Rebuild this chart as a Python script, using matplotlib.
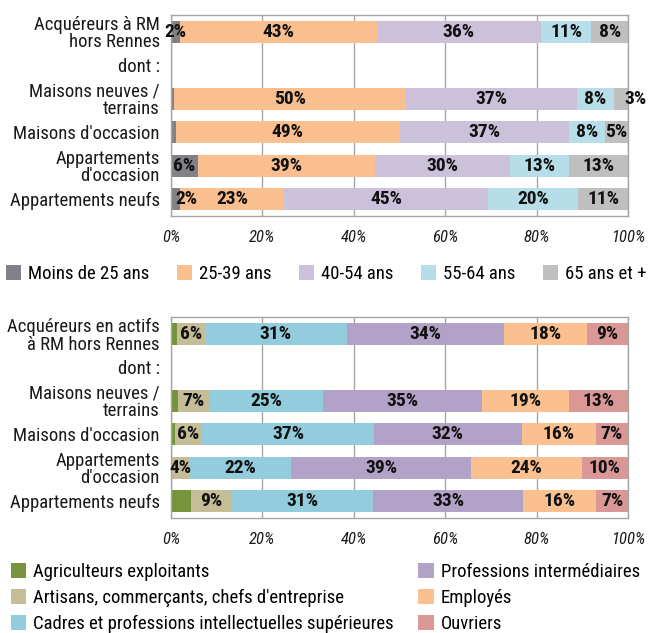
import matplotlib
matplotlib.use("Agg")
import matplotlib.pyplot as plt
import numpy as np
from matplotlib import font_manager

names = {f.name for f in font_manager.fontManager.ttflist}
FONT = next((n for n in ['Roboto Condensed', 'Archivo Narrow', 'PT Sans Narrow',
                         'Pragati Narrow', 'Barlow Condensed', 'Liberation Sans'] if n in names),
            'DejaVu Sans')
plt.rcParams['font.family'] = [FONT, 'DejaVu Sans']

# ---------------- data ----------------
top_rows = ["Acquéreurs à RM\nhors Rennes", "dont :", "Maisons neuves /\nterrains",
            "Maisons d'occasion", "Appartements\nd'occasion", "Appartements neufs"]
top_series = ["Moins de 25 ans", "25-39 ans", "40-54 ans", "55-64 ans", "65 ans et +"]
top_moins25 = [2, 0.7, 1, 6, 2]
top_25_39 = [43, 50, 49, 39, 23]
top_40_54 = [36, 37, 37, 30, 45]
top_55_64 = [11, 8, 8, 13, 20]
top_65plus = [8, 3, 5, 13, 11]

bot_rows = ["Acquéreurs en actifs\nà RM hors Rennes", "dont :", "Maisons neuves /\nterrains",
            "Maisons d'occasion", "Appartements\nd'occasion", "Appartements neufs"]
bot_series = ["Agriculteurs exploitants", "Artisans, commerçants, chefs d'entreprise",
              "Cadres et professions intellectuelles supérieures",
              "Professions intermédiaires", "Employés", "Ouvriers"]
bot_agri = [1.3, 1.5, 0.8, 0, 4.4]
bot_artisans = [6, 7, 6, 4, 9]
bot_cadres = [31, 25, 37, 22, 31]
bot_prof_inter = [34, 35, 32, 39, 33]
bot_employes = [18, 19, 16, 24, 16]
bot_ouvriers = [9, 13, 7, 10, 7]

xticks = [0, 20, 40, 60, 80, 100]
xticklabels = ["0%", "20%", "40%", "60%", "80%", "100%"]

top_colors = ["#828188", "#F9BF8F", "#CCC1DA", "#B7DEE8", "#BFBFBF"]
bot_colors = ["#77933C", "#C4BD97", "#93CDDD", "#B3A2C7", "#FAC090", "#D99795"]

W, H = 663, 633
fig = plt.figure(figsize=(W / 100, H / 100), dpi=100)

def px_axes(left, top, right, bottom):
    return fig.add_axes([left / W, 1 - bottom / H, (right - left) / W, (bottom - top) / H])

FS = 13.5
BAR_POS = [0, 2, 3, 4, 5]

def draw(ax, rows, series_vals, series_names, colors, show_label, nudges):
    data = np.array(series_vals, dtype=float)  # series x rows
    totals = data.sum(axis=0)
    pct = data / totals * 100
    left = np.zeros(pct.shape[1])
    containers = []
    for i, (vals, name, col) in enumerate(zip(pct, series_names, colors)):
        bc = ax.barh(BAR_POS, vals, left=left, height=0.66, color=col, label=name,
                     edgecolor='none', zorder=2)
        containers.append(bc)
        for j, (v, l) in enumerate(zip(vals, left)):
            raw = data[i, j]
            if show_label(i, raw):
                x = l + v / 2 + nudges.get((j, i), 0)
                ax.text(x, BAR_POS[j], f"{raw:.0f}%", ha='center', va='center',
                        fontsize=14, fontweight='bold', color='#111111', zorder=3)
        left = left + vals
    ax.set_xlim(0, 100)
    ax.set_ylim(5.5, -0.5)
    ax.set_yticks(range(len(rows)))
    ax.set_yticklabels(rows, fontsize=FS, color='#1a1a1a', linespacing=0.98)
    ax.set_xticks(xticks)
    ax.set_xticklabels(xticklabels, fontsize=12, fontstyle='italic', color='#1a1a1a')
    ax.tick_params(axis='both', length=0)
    ax.tick_params(axis='x', pad=10)
    ax.tick_params(axis='y', pad=8)
    ax.grid(axis='x', color='#A6A6A6', linewidth=1, zorder=0)
    for s in ax.spines.values():
        s.set_color('#A6A6A6')
        s.set_linewidth(1)
    return containers

ax1 = px_axes(171, 15, 628, 216)
c1 = draw(ax1, top_rows, [top_moins25, top_25_39, top_40_54, top_55_64, top_65plus],
          top_series, top_colors, lambda i, v: v >= 1.5,
          nudges={(4, 0): 2.4, (1, 4): 3.2})

ax2 = px_axes(171, 317, 628, 518)
c2 = draw(ax2, bot_rows, [bot_agri, bot_artisans, bot_cadres, bot_prof_inter, bot_employes, bot_ouvriers],
          bot_series, bot_colors, lambda i, v: i > 0, nudges={})

fig.legend(handles=c1, labels=top_series, loc='center left', bbox_to_anchor=(0 / W, 1 - 274 / H),
           ncol=5, frameon=False, fontsize=FS, handlelength=0.82, handleheight=0.82,
           handletextpad=0.38, columnspacing=1.45, borderaxespad=0, borderpad=0.3)

fig.legend(handles=c2, labels=bot_series, loc='center left', bbox_to_anchor=(5 / W, 1 - 598 / H),
           ncol=2, frameon=False, fontsize=FS, handlelength=0.82, handleheight=0.82,
           handletextpad=0.38, columnspacing=1.3, labelspacing=0.42, borderaxespad=0, borderpad=0.3)

fig.savefig("out.png", dpi=100)
